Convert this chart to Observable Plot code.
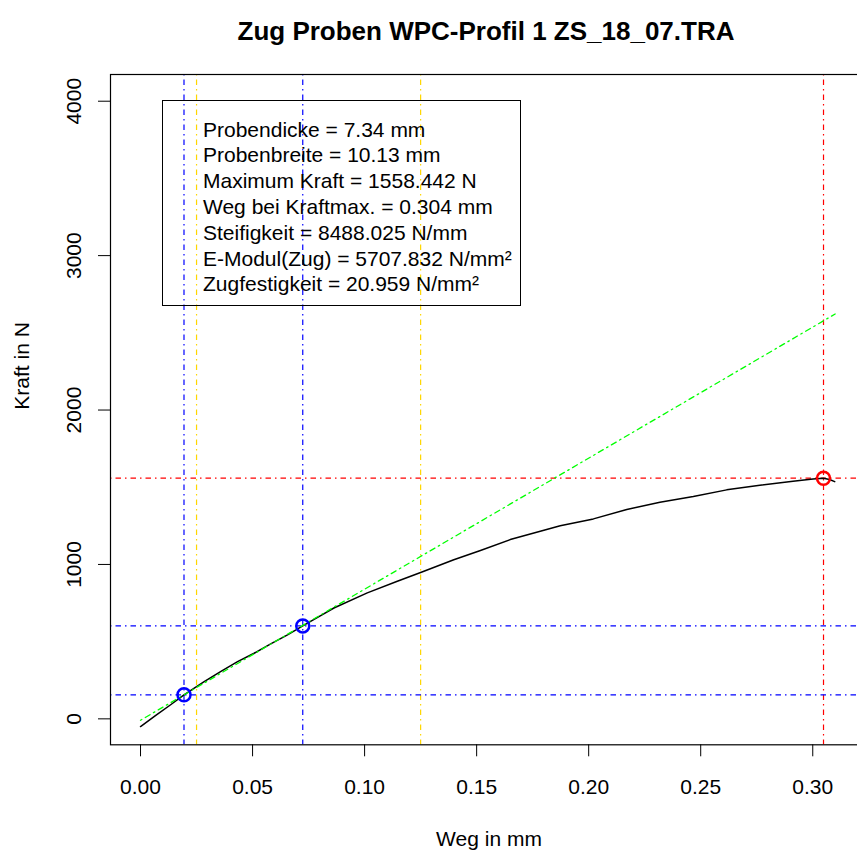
<!DOCTYPE html>
<html><head><meta charset="utf-8">
<script src="https://cdn.jsdelivr.net/npm/d3@7"></script>
<script src="https://cdn.jsdelivr.net/npm/@observablehq/plot@0.6"></script>
<style>
html,body{margin:0;padding:0;background:#fff;overflow:hidden}
#wrap{position:relative;width:857px;height:853px;overflow:hidden;font-family:"Liberation Sans",Arial,Helvetica,sans-serif;color:#000}
#title{position:absolute;top:17.5px;left:486px;transform:translateX(-50%);font-weight:bold;font-size:26px;line-height:26px;white-space:nowrap}
#legendBox{position:absolute;left:162px;top:100px;width:359px;height:206px;border:1px solid #000;box-sizing:border-box;pointer-events:none}
#legendText{position:absolute;left:203px;top:116.6px;font-size:21px;line-height:25.8px;white-space:nowrap}
#chart{position:absolute;left:0;top:0}
</style>
</head><body>
<div id="wrap">
  <div id="chart"></div>
  <div id="title"></div>
  <div id="legendBox"></div>
  <div id="legendText"></div>
</div>
<script>
// ---- data ----
const titleText = "Zug Proben WPC-Profil 1 ZS_18_07.TRA";
const xLabel = "Weg in mm";
const yLabel = "Kraft in N";
const legendLines = [
  "Probendicke = 7.34 mm",
  "Probenbreite = 10.13 mm",
  "Maximum Kraft = 1558.442 N",
  "Weg bei Kraftmax. = 0.304 mm",
  "Steifigkeit = 8488.025 N/mm",
  "E-Modul(Zug) = 5707.832 N/mm²",
  "Zugfestigkeit = 20.959 N/mm²"
];
const xTicks = [0, 0.05, 0.10, 0.15, 0.20, 0.25, 0.30];
const yTicks = [0, 1000, 2000, 3000, 4000];
const xDomain = [-0.0134, 0.3222];
const yDomain = [-168, 4173];

// measured curve (Weg in mm, Kraft in N)
const curveX = [0.0000, 0.0068, 0.0136, 0.0194, 0.0284, 0.0359, 0.0433, 0.0507, 0.0581, 0.0656, 0.0724, 0.0804, 0.0863, 0.1012, 0.1146, 0.1253, 0.1398, 0.1517, 0.1650, 0.1784, 0.1873, 0.2021, 0.2170, 0.2318, 0.2467, 0.2616, 0.2764, 0.2912, 0.3001, 0.3048, 0.3075, 0.3098];
const curveY = [-50, 22, 93, 155, 241, 308, 371, 425, 486, 544, 602, 668, 718, 816, 891, 949, 1030, 1090, 1161, 1215, 1250, 1295, 1356, 1403, 1440, 1483, 1513, 1539, 1554, 1558, 1550, 1536];

// fitted stiffness line (endpoints)
const fitX = [0, 0.31];
const fitY = [-9, 2622];

// marker points
const blueX = [0.0194, 0.0724];
const blueY = [155.8, 602];
const redX = [0.3048];
const redY = [1558.442];

// reference lines
const vBlue = [0.0194, 0.0724];
const vGold = [0.025, 0.125];
const vRed = [0.3048];
const hBlue = [155.8, 602];
const hRed = [1558.442];

// ---- build ----
const curve = curveX.map((x, i) => ({x, y: curveY[i]}));
const fit = fitX.map((x, i) => ({x, y: fitY[i]}));
const bluePts = blueX.map((x, i) => ({x, y: blueY[i]}));
const redPts = redX.map((x, i) => ({x, y: redY[i]}));

const dash = "1.5 4 5.5 4";
const font = '"Liberation Sans", Arial, Helvetica, sans-serif';

document.getElementById("title").textContent = titleText;
document.getElementById("legendText").innerHTML = legendLines.map(s => `<div>${s}</div>`).join("");

const chart = Plot.plot({
  width: 862,
  height: 853,
  marginLeft: 110,
  marginRight: 0,
  marginTop: 74,
  marginBottom: 108.7,
  style: {fontFamily: font, fontSize: "21px", maxWidth: "none", background: "transparent", color: "#000"},
  x: {domain: xDomain},
  y: {domain: yDomain},
  marks: [
    Plot.ruleX(vBlue, {stroke: "#0000ff", strokeWidth: 1.2, strokeDasharray: dash}),
    Plot.ruleX(vGold, {stroke: "#ffd700", strokeWidth: 1.2, strokeDasharray: dash}),
    Plot.ruleX(vRed, {stroke: "#ff0000", strokeWidth: 1.2, strokeDasharray: dash}),
    Plot.ruleY(hBlue, {stroke: "#0000ff", strokeWidth: 1.2, strokeDasharray: dash}),
    Plot.ruleY(hRed, {stroke: "#ff0000", strokeWidth: 1.2, strokeDasharray: dash}),
    Plot.line(curve, {x: "x", y: "y", stroke: "#000", strokeWidth: 1.5}),
    Plot.line(fit, {x: "x", y: "y", stroke: "#00ff00", strokeWidth: 1.3, strokeDasharray: dash}),
    Plot.dot(bluePts, {x: "x", y: "y", r: 6.5, stroke: "#0000ff", strokeWidth: 2.5, fill: "none"}),
    Plot.dot(redPts, {x: "x", y: "y", r: 6.5, stroke: "#ff0000", strokeWidth: 2.5, fill: "none"}),
    Plot.frame({stroke: "#000", strokeWidth: 1.2}),
    Plot.axisX({ticks: xTicks, tickSize: 12, tickPadding: 22, tickFormat: d3.format(".2f"), fontSize: 21, label: null, stroke: "#000", fill: "#000"}),
    Plot.axisY({ticks: yTicks, tickSize: 12, tickRotate: -90, tickPadding: 18, tickFormat: d3.format("d"), fontSize: 21, label: null, stroke: "#000", fill: "#000"}),
    Plot.text([xLabel], {frameAnchor: "bottom", dx: 2.5, dy: 94.5, fontSize: 21, lineAnchor: "middle", fill: "#000"}),
    Plot.text([yLabel], {frameAnchor: "left", dx: -88, rotate: -90, fontSize: 21, lineAnchor: "middle", fill: "#000"})
  ]
});
document.getElementById("chart").appendChild(chart);
</script>
</body></html>
